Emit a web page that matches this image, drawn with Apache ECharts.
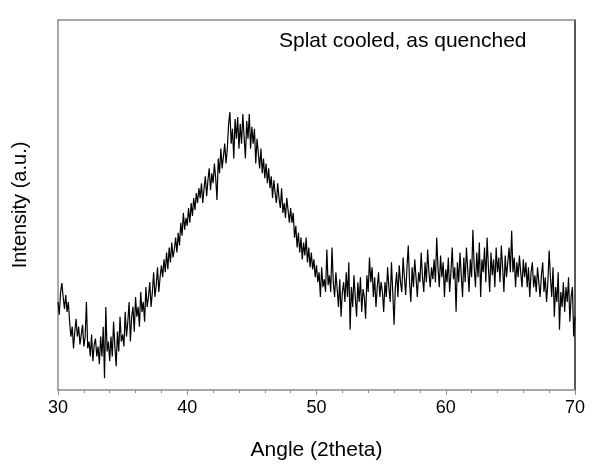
<!DOCTYPE html>
<html>
<head>
<meta charset="utf-8">
<script src="https://cdn.jsdelivr.net/npm/echarts@6/dist/echarts.min.js"></script>
<style>html,body{margin:0;padding:0;background:#fff}#c{width:594px;height:466px}</style>
</head>
<body>
<div id="c"></div>
<script>
// Angle (2theta) start/step of the scan
const angleStart = 30.0;
const angleStep = 0.1;
// Intensity (a.u.), one value per 0.1 degree from 30.0 to 70.0
const intensity = [
  89,
  76, 99, 108, 94, 82, 96, 79, 89, 69, 54,
  64, 42, 59, 72, 54, 64, 46, 56, 66, 44,
  54, 89, 42, 49, 34, 56, 29, 46, 52, 34,
  44, 26, 54, 34, 64, 12, 84, 39, 49, 29,
  54, 34, 69, 44, 24, 59, 39, 74, 49, 56,
  44, 79, 54, 69, 89, 49, 74, 84, 59, 94,
  74, 84, 64, 99, 79, 89, 69, 104, 84, 94,
  109, 84, 99, 119, 94, 106, 124, 99, 114, 126,
  114, 132, 119, 139, 122, 144, 129, 149, 134, 142,
  154, 139, 159, 146, 169, 156, 179, 162, 174, 166,
  184, 169, 189, 176, 194, 182, 199, 189, 204, 194,
  209, 189, 204, 216, 196, 212, 224, 202, 219, 209,
  229, 214, 192, 234, 219, 244, 224, 236, 249, 229,
  244, 269, 281, 249, 264, 234, 274, 254, 276, 244,
  269, 249, 279, 256, 234, 272, 254, 279, 244, 266,
  249, 264, 229, 254, 239, 224, 244, 219, 234, 214,
  229, 209, 224, 204, 216, 194, 212, 199, 189, 209,
  194, 184, 204, 179, 189, 174, 194, 182, 169, 184,
  169, 179, 154, 166, 144, 159, 139, 154, 132, 149,
  136, 154, 129, 144, 124, 139, 122, 132, 114, 126,
  109, 119, 94, 124, 104, 112, 99, 142, 106, 116,
  99, 144, 109, 94, 119, 102, 84, 112, 74, 99,
  109, 89, 119, 94, 129, 61, 104, 84, 116, 94,
  74, 109, 89, 114, 79, 102, 94, 72, 116, 99,
  134, 109, 124, 94, 114, 84, 104, 119, 94, 109,
  99, 79, 109, 94, 124, 104, 89, 129, 99, 66,
  104, 119, 94, 126, 109, 99, 134, 114, 96, 124,
  146, 109, 89, 124, 104, 132, 114, 94, 119, 109,
  139, 114, 99, 129, 109, 142, 119, 104, 124, 112,
  132, 109, 154, 124, 104, 136, 114, 129, 94, 122,
  109, 134, 99, 119, 144, 112, 124, 79, 129, 109,
  139, 116, 94, 134, 109, 144, 122, 99, 132, 114,
  162, 124, 104, 139, 114, 149, 94, 132, 119, 144,
  109, 154, 124, 99, 139, 116, 132, 104, 144, 119,
  134, 109, 146, 124, 99, 136, 114, 129, 144, 119,
  161, 119, 134, 104, 129, 114, 136, 119, 104, 132,
  114, 129, 104, 124, 94, 119, 129, 104, 116, 99,
  124, 109, 94, 116, 129, 99, 114, 89, 109, 141,
  114, 94, 124, 74, 104, 89, 119, 61, 99, 84,
  109, 79, 104, 89, 114, 69, 94, 104, 54, 74
];
const xTicks = [30, 40, 50, 60, 70];
const xName = 'Angle (2theta)';
const yName = 'Intensity (a.u.)';
const note = 'Splat cooled, as quenched';

const points = intensity.map((v, i) => [+(angleStart + i * angleStep).toFixed(2), v]);

const font = 'Liberation Sans, Arial, sans-serif';
const chart = echarts.init(document.getElementById('c'), null, {renderer: 'canvas'});
chart.setOption({
  animation: false,
  backgroundColor: '#ffffff',
  grid: {left: 58, right: 19, top: 20, bottom: 72, containLabel: false},
  xAxis: [{
    type: 'value', min: xTicks[0], max: xTicks[xTicks.length - 1], interval: 10,
    name: xName, nameLocation: 'middle', nameGap: 50,
    nameTextStyle: {fontFamily: font, fontSize: 21, color: '#000'},
    axisLine: {onZero: false, lineStyle: {color: '#8c8c8c', width: 1.5}},
    axisTick: {show: true, inside: false, length: 5, lineStyle: {color: '#8c8c8c', width: 1}},
    minorTick: {show: true, splitNumber: 5, length: 3, lineStyle: {color: '#8c8c8c', width: 1}},
    axisLabel: {fontFamily: font, fontSize: 18, color: '#000', margin: 9},
    splitLine: {show: false}
  }, {
    type: 'value', position: 'top', min: 30, max: 70,
    axisLine: {show: true, onZero: false, lineStyle: {color: '#8c8c8c', width: 1.5}},
    axisTick: {show: false}, axisLabel: {show: false}, splitLine: {show: false}
  }],
  yAxis: [{
    type: 'value', min: 0, max: 374,
    name: yName, nameLocation: 'middle', nameGap: 28,
    nameTextStyle: {fontFamily: font, fontSize: 20, color: '#000'},
    axisLine: {show: true, onZero: false, lineStyle: {color: '#8c8c8c', width: 1.5}},
    axisTick: {show: false}, axisLabel: {show: false}, splitLine: {show: false}
  }, {
    type: 'value', position: 'right', min: 0, max: 374,
    axisLine: {show: true, onZero: false, lineStyle: {color: '#222', width: 1.5}},
    axisTick: {show: false}, axisLabel: {show: false}, splitLine: {show: false}
  }],
  graphic: [{
    type: 'text', left: 279, top: 31,
    style: {text: note, fontFamily: font, fontSize: 21, fill: '#000'}
  }],
  series: [{
    type: 'line', data: points, showSymbol: false, symbol: 'none',
    lineStyle: {color: '#000', width: 1.2}, clip: true
  }]
});
</script>
</body>
</html>
